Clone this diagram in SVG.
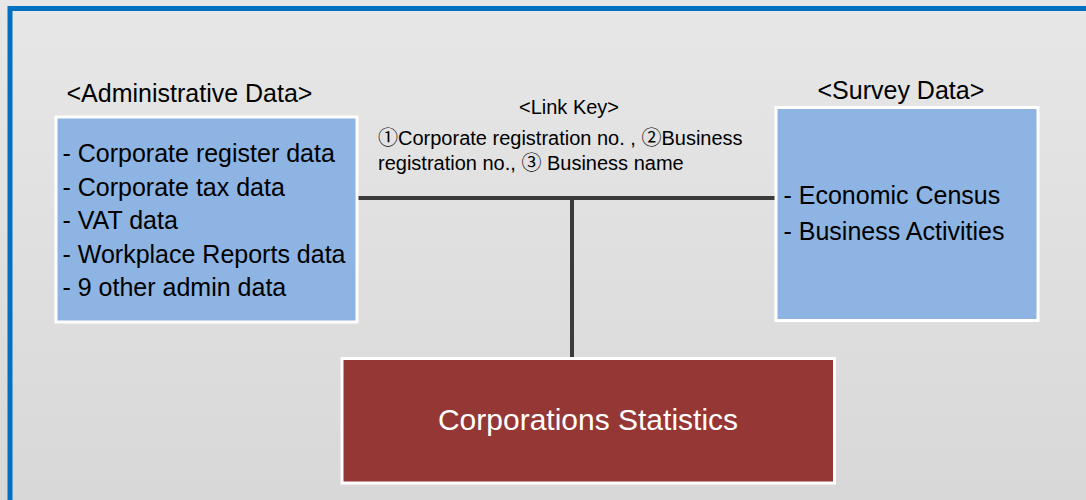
<svg xmlns="http://www.w3.org/2000/svg" width="1086" height="500" viewBox="0 0 1086 500">
<defs>
<linearGradient id="bg" x1="0" y1="0" x2="0" y2="1">
<stop offset="0" stop-color="#e7e7e7"/>
<stop offset="1" stop-color="#d8d8d8"/>
</linearGradient>
</defs>
<style>
.t{font-family:"Liberation Sans","Noto Sans CJK JP",Arial,sans-serif;fill:#000}
.blue{fill:#8eb4e3;stroke:#fff;stroke-width:3}
.lbl{font-size:25px}
.key{font-size:20px}
.conn{stroke:#3a3a3a;stroke-width:4;fill:none}
</style>
<rect x="0" y="0" width="1086" height="500" fill="url(#bg)"/>
<rect x="10" y="8.5" width="1200" height="600" fill="none" stroke="#0070c0" stroke-width="5"/>
<g id="connectors">
<line class="conn" x1="358" y1="198" x2="776" y2="198"/>
<line class="conn" x1="572" y1="198" x2="572" y2="358"/>
</g>
<g id="admin">
<text class="t lbl" x="66.5" y="101.5">&lt;Administrative Data&gt;</text>
<rect class="blue" x="56" y="117" width="301" height="205"/>
<text class="t lbl" x="62.5" y="162">- Corporate register data</text>
<text class="t lbl" x="62.5" y="195.5">- Corporate tax data</text>
<text class="t lbl" x="62.5" y="229">- VAT data</text>
<text class="t lbl" x="62.5" y="262.5">- Workplace Reports data</text>
<text class="t lbl" x="62.5" y="296">- 9 other admin data</text>
</g>
<g id="linkkey">
<text class="t key" x="569" y="114" text-anchor="middle">&lt;Link Key&gt;</text>
<text class="t key" x="378" y="145">①Corporate registration no. , ②Business</text>
<text class="t key" x="378" y="170">registration no., ③ Business name</text>
</g>
<g id="survey">
<text class="t lbl" x="817.5" y="98.5">&lt;Survey Data&gt;</text>
<rect class="blue" x="776" y="107.5" width="262" height="213"/>
<text class="t lbl" x="783.5" y="203.5">- Economic Census</text>
<text class="t lbl" x="783.5" y="239.5">- Business Activities</text>
</g>
<g id="corpstats">
<rect x="342" y="358.5" width="492.5" height="124.5" fill="#953735" stroke="#fff" stroke-width="3"/>
<text class="t" x="588" y="430" text-anchor="middle" font-size="30" style="fill:#fff">Corporations Statistics</text>
</g>
</svg>
